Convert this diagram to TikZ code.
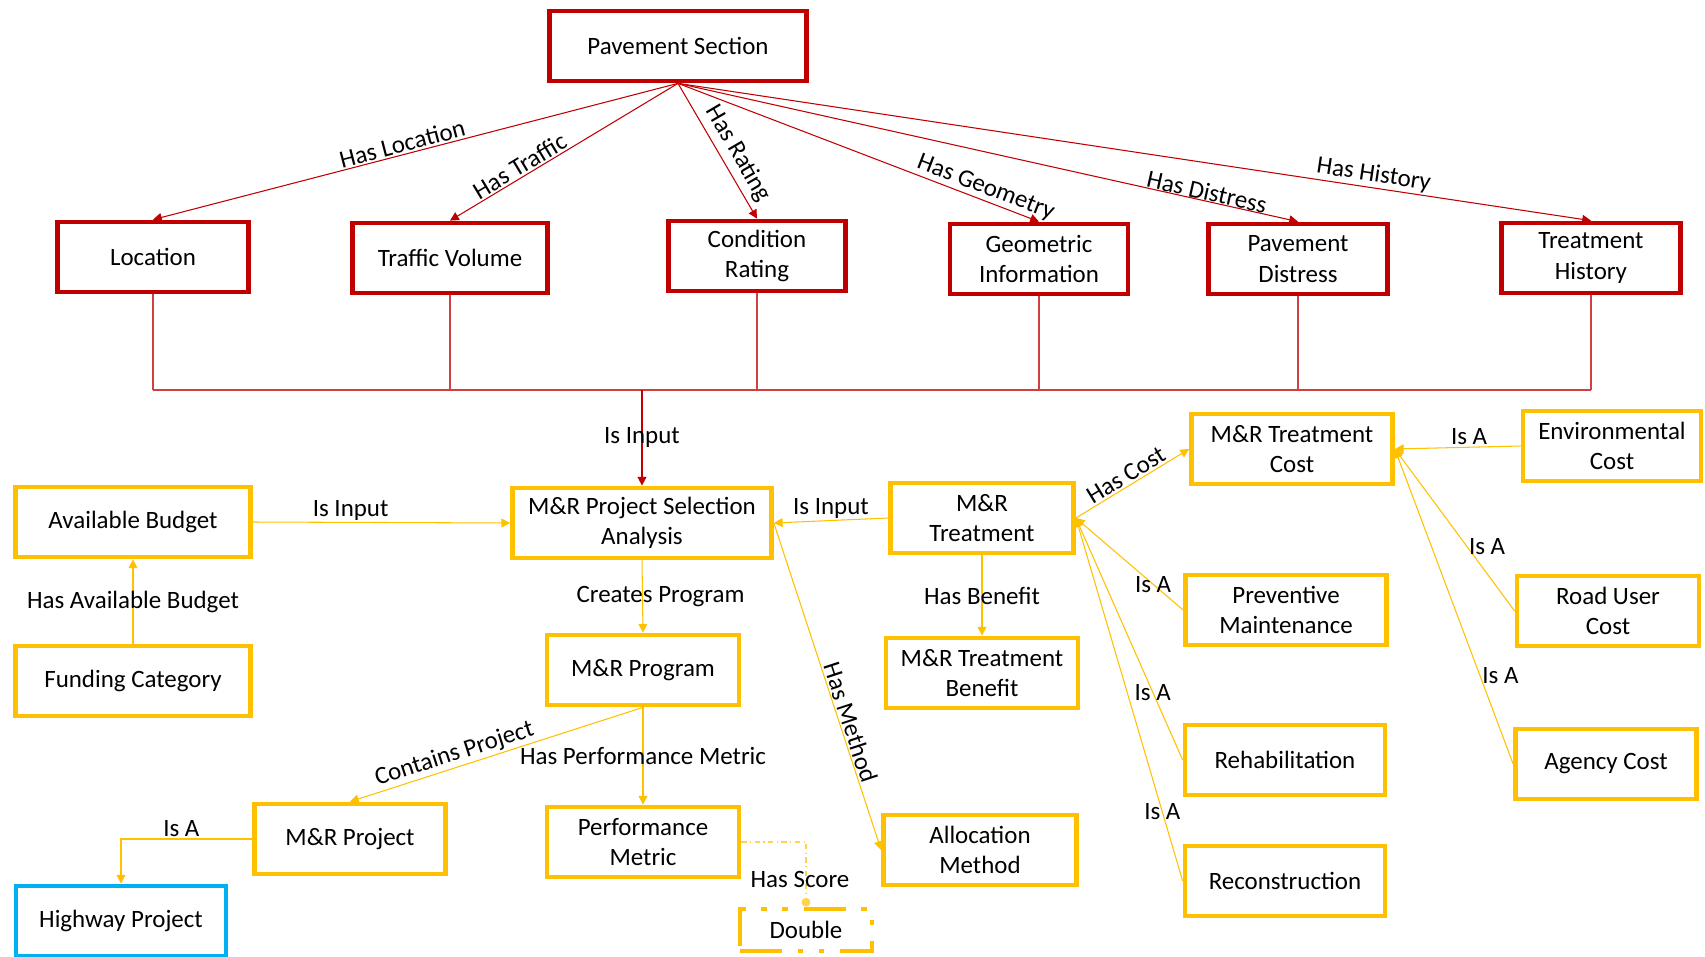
\documentclass[tikz,border=0pt]{standalone}
\usepackage{fontspec}
\setmainfont{Carlito}
\usetikzlibrary{arrows.meta}

\definecolor{secred}{HTML}{C00000}
\definecolor{mrgold}{HTML}{FFC000}
\definecolor{hwyblue}{HTML}{00B0F0}

\begin{document}
\begin{tikzpicture}[x=0.02cm,y=-0.02cm,
    font=\fontsize{14.2}{17.2}\selectfont,
    >={Triangle[length=5pt,width=5pt]},
    box/.style={draw,fill=white,line width=2.7pt,align=center,
      minimum height=1.4cm,inner sep=2pt},
    redbox/.style={box,draw=secred},
    goldbox/.style={box,draw=mrgold},
    bluebox/.style={box,draw=hwyblue},
    redlink/.style={secred,line width=0.6pt},
    goldlink/.style={mrgold,line width=0.6pt},
    scorelink/.style={mrgold!70,line width=0.6pt,dash dot},
    lbl/.style={inner sep=1pt,text=black}]
  \useasboundingbox (0,0) rectangle (1705,957);

  % pavement section and what it has
  \node[redbox,minimum width=5.15cm] (pav) at (678,46) {Pavement Section};
  \node[redbox,minimum width=3.82cm] (loc) at (153,257) {Location};
  \node[redbox,minimum width=3.9cm] (trf) at (450,258) {Traffic Volume};
  \node[redbox,minimum width=3.54cm] (cond) at (757,256) {Condition\\Rating};
  \node[redbox,minimum width=3.56cm] (geo) at (1039,259) {Geometric\\Information};
  \node[redbox,minimum width=3.58cm] (dist) at (1298,259) {Pavement\\Distress};
  \node[redbox,minimum width=3.58cm] (hist) at (1591,258) {Treatment\\History};

  \draw[redlink,<-] (loc.north) -- (pav.south) node[pos=0.48,sloped,above,lbl] {Has Location};
  \draw[redlink,<-] (trf.north) -- (pav.south) node[pos=0.33,sloped,above,lbl] {Has Traffic};
  \draw[redlink,->] (pav.south) -- (cond.north) node[pos=0.58,sloped,above,inner sep=3pt,text=black] {Has Rating};
  \draw[redlink,->] (pav.south) -- (geo.north) node[pos=0.84,sloped,above,lbl] {Has Geometry};
  \draw[redlink,->] (pav.south) -- (dist.north) node[pos=0.85,sloped,above,inner sep=0pt,text=black] {Has Distress};
  \draw[redlink,->] (pav.south) -- (hist.north) node[pos=0.76,sloped,above,lbl] {Has History};

  % selection analysis and its inputs
  \node[goldbox,minimum width=4.7cm] (budget) at (133,522) {Available Budget};
  \node[goldbox,minimum width=4.7cm] (fund) at (133,681) {Funding Category};
  \node[goldbox,minimum width=5.18cm] (ana) at (642,523) {M\&R Project Selection\\Analysis};
  \node[goldbox,minimum width=3.66cm] (trt) at (982,518) {M\&R\\Treatment};
  \node[goldbox,minimum width=4.02cm] (cost) at (1292,449) {M\&R Treatment\\Cost};
  \node[goldbox,minimum width=3.56cm] (env) at (1612,446) {Environmental\\Cost};
  \node[goldbox,minimum width=4.02cm] (prev) at (1286,610) {Preventive\\Maintenance};
  \node[goldbox,minimum width=3.64cm] (user) at (1608,611) {Road User\\Cost};
  \node[goldbox,minimum width=3.84cm] (prog) at (643,670) {M\&R Program};
  \node[goldbox,minimum width=3.84cm] (bene) at (982,673) {M\&R Treatment\\Benefit};
  \node[goldbox,minimum width=4cm] (rehab) at (1285,760) {Rehabilitation};
  \node[goldbox,minimum width=3.62cm] (agency) at (1606,764) {Agency Cost};
  \node[goldbox,minimum width=3.82cm] (proj) at (350,839) {M\&R Project};
  \node[goldbox,minimum width=3.84cm] (perf) at (643,842) {Performance\\Metric};
  \node[goldbox,minimum width=3.86cm] (alloc) at (980,850) {Allocation\\Method};
  \node[goldbox,minimum width=4cm] (recon) at (1285,881) {Reconstruction};
  \node[bluebox,minimum width=4.2cm] (hwy) at (121,921) {Highway Project};
  \node[goldbox,minimum width=2.64cm,minimum height=0.84cm,
    dash pattern=on 24pt off 9pt on 3pt off 9pt on 3pt off 9pt] (dbl) at (806,930) {Double};

  % red bus into the analysis
  \coordinate (bus) at (0,390);
  \foreach \n in {loc,trf,cond,geo,dist,hist}
    \draw[redlink,secred!75] (\n.south) -- (\n.south |- bus);
  \draw[redlink,secred!75] (loc.south |- bus) -- (hist.south |- bus);
  \draw[redlink,line width=0.9pt,->] (ana.north |- bus) -- (ana.north)
    node[midway,lbl] {Is Input};

  \draw[goldlink,->] (budget.east) -- (ana.west) node[pos=0.38,above,lbl] {Is Input};
  \draw[goldlink,->] (fund.north) -- (budget.south) node[midway,lbl] {Has Available Budget};
  \draw[goldlink,->] (trt.west) -- (ana.east) node[midway,above,lbl] {Is Input};
  \draw[goldlink,->] (ana.south) -- (prog.north) node[midway,xshift=0.36cm,lbl] {Creates Program};
  \draw[goldlink,->] (ana.east) -- (alloc.west) node[pos=0.62,sloped,above,lbl] {Has Method};
  \draw[goldlink,<-] (proj.north) -- (prog.south) node[pos=0.37,sloped,above,lbl] {Contains Project};
  \draw[goldlink,->] (prog.south) -- (perf.north) node[midway,lbl] {Has Performance Metric};
  \draw[goldlink,->] (proj.west) -| (hwy.north) node[pos=0.27,above,lbl] {Is A};
  \draw[scorelink,-{Circle[length=5pt]}] (perf.east) -| (dbl.north)
    node[pos=0.79,xshift=-0.12cm,lbl] {Has Score};

  % treatments and costs
  \draw[goldlink,->] (trt.south) -- (bene.north) node[midway,lbl] {Has Benefit};
  \draw[goldlink,->] (trt.east) -- (cost.west) node[pos=0.49,sloped,above,lbl] {Has Cost};
  \foreach \n/\p in {prev/0.28,rehab/0.28,recon/0.19}
    \draw[goldlink,->] (\n.west) -- (trt.east) node[pos=\p,lbl] {Is A};
  \draw[goldlink,->] (env.west) -- (cost.east) node[pos=0.41,above,lbl] {Is A};
  \draw[goldlink,->] (user.west) -- (cost.east) node[pos=0.4,right,lbl] {Is A};
  \draw[goldlink,->] (agency.west) -- (cost.east) node[pos=0.28,right,lbl] {Is A};
\end{tikzpicture}
\end{document}
